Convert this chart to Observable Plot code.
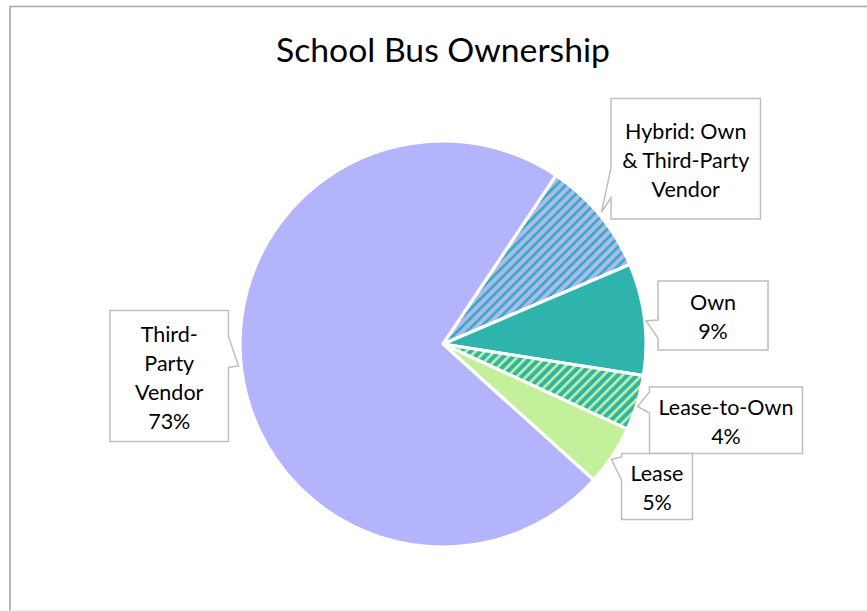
<!DOCTYPE html>
<html>
<head>
<meta charset="utf-8">
<script src="https://cdn.jsdelivr.net/npm/d3@7"></script>
<script src="https://cdn.jsdelivr.net/npm/@observablehq/plot@0.6"></script>
<style>
  html, body { margin: 0; padding: 0; background: #fff; }
  #chart { position: absolute; left: 0; top: 0; }
</style>
</head>
<body>
<div id="chart"></div>
<script>
// ---------- data ----------
const chartTitle = "School Bus Ownership";
const categories = ["Hybrid: Own & Third-Party Vendor", "Own", "Lease-to-Own", "Lease", "Third-Party Vendor"];
const shares = [9.2, 8.9, 4.4, 4.8, 72.7];
const labelLines = [["Hybrid: Own", "& Third-Party", "Vendor"], ["Own"], ["Lease-to-Own"], ["Lease"], ["Third-", "Party", "Vendor"]];
const showPercent = [false, true, true, true, true];

// ---------- styles ----------
const lavender = "#b4b4fd", teal = "#2fb3ad", green = "#c3f09a";
const sliceFills = ["url(#hatch-hybrid)", teal, "url(#hatch-lto)", green, lavender];
const hatches = [
  {id: "hatch-hybrid", bg: lavender, stripe: teal, frac: 0.4},
  {id: "hatch-lto", bg: teal, stripe: green, frac: 0.4}
];
const hatchPeriodX = 9.5; // horizontal repeat of the diagonal stripes, px

// ---------- layout (pixels) ----------
const W = 867, H = 611;
const pie = {cx: 443, cy: 344, r: 203, startDeg: 33.8};
const callouts = [
  {box: [611, 98.5, 760.5, 219], side: "left", base: [168, 198], tip: [601.5, 212]},
  {box: [658, 281, 768, 350], side: "left", base: [320, 338], tip: [646, 321]},
  {box: [649.5, 387, 802.5, 453.5], side: "left", base: [392, 413], tip: [637.5, 406.5]},
  {box: [621.5, 453.5, 692.5, 519.5], side: "left", base: [457, 480], tip: [611.5, 459.5]},
  {box: [110, 310.5, 228.5, 441.5], side: "right", base: [336.5, 367.5], tip: [238.5, 366]}
];
const labelFont = {family: "Lato", size: 21.5, lineHeight: 29, baselineShift: 9};
const titleFont = {family: "Lato", size: 34, cx: 443, baseline: 62, targetWidth: 334};

const data = categories.map((name, i) => ({name, share: shares[i], lines: labelLines[i], pct: showPercent[i]}));

const color = Plot.scale({color: {type: "ordinal", domain: categories, range: sliceFills}});

function render(index, scales, values, dimensions, context) {
  const svgNS = "http://www.w3.org/2000/svg";
  const g = d3.select(document.createElementNS(svgNS, "g"));

  // patterns: upward diagonal stripes
  const defs = g.append("defs");
  const period = hatchPeriodX / Math.SQRT2;
  for (const h of hatches) {
    const p = defs.append("pattern")
      .attr("id", h.id)
      .attr("patternUnits", "userSpaceOnUse")
      .attr("width", period).attr("height", period)
      .attr("patternTransform", "rotate(45)");
    p.append("rect").attr("width", period).attr("height", period).attr("fill", h.bg);
    p.append("rect").attr("width", period * h.frac).attr("height", period).attr("fill", h.stripe);
  }

  // frame
  g.append("path").attr("d", `M10,${H} V6.5 H${W}`).attr("fill", "none").attr("stroke", "#a6a6a6").attr("stroke-width", 1.6);
  g.append("line").attr("x1", 10).attr("x2", W).attr("y1", 610).attr("y2", 610).attr("stroke", "#ececec").attr("stroke-width", 1);

  // title
  g.append("text").attr("class", "chart-title")
    .attr("x", titleFont.cx).attr("y", titleFont.baseline)
    .attr("text-anchor", "middle")
    .attr("font-family", titleFont.family).attr("font-size", titleFont.size)
    .attr("fill", "#000").text(chartTitle);

  // slices
  const start = pie.startDeg * Math.PI / 180;
  const arcs = d3.pie().sort(null).value(d => d.share).startAngle(start).endAngle(start + 2 * Math.PI)(data);
  const arc = d3.arc().innerRadius(0).outerRadius(pie.r);
  g.append("g").attr("transform", `translate(${pie.cx},${pie.cy})`)
    .selectAll("path").data(arcs).join("path")
    .attr("d", arc)
    .attr("fill", d => color.apply(d.data.name))
    .attr("stroke", "#fff").attr("stroke-width", 3.2).attr("stroke-linejoin", "round");

  // callouts
  data.forEach((d, i) => {
    const c = callouts[i];
    const [x0, y0, x1, y1] = c.box;
    const [b0, b1] = c.base;
    const [tx, ty] = c.tip;
    const dpath = c.side === "left"
      ? `M${x0},${y0} H${x1} V${y1} H${x0} V${b1} L${tx},${ty} L${x0},${b0} Z`
      : `M${x0},${y0} H${x1} V${b0} L${tx},${ty} L${x1},${b1} V${y1} H${x0} Z`;
    g.append("path").attr("d", dpath).attr("fill", "#fff").attr("stroke", "#bfbfbf").attr("stroke-width", 1.5);
    const lines = d.pct ? [...d.lines, Math.round(d.share) + "%"] : d.lines;
    const cx = (x0 + x1) / 2, cy = (y0 + y1) / 2;
    const t = g.append("text").attr("text-anchor", "middle")
      .attr("font-family", labelFont.family).attr("font-size", labelFont.size).attr("fill", "#000");
    lines.forEach((ln, k) => {
      t.append("tspan").attr("x", cx)
        .attr("y", cy + (k - (lines.length - 1) / 2) * labelFont.lineHeight + labelFont.baselineShift)
        .text(ln);
    });
  });
  return g.node();
}

const chart = Plot.plot({
  width: W,
  height: H,
  margin: 0,
  style: {background: "#fff", overflow: "visible"},
  marks: [render]
});
document.getElementById("chart").append(chart);

// fit title width to reference
const tt = chart.querySelector(".chart-title");
if (tt) {
  const w = tt.getComputedTextLength();
  if (w > 0) tt.setAttribute("font-size", (titleFont.size * titleFont.targetWidth / w).toFixed(2));
}
</script>
</body>
</html>
